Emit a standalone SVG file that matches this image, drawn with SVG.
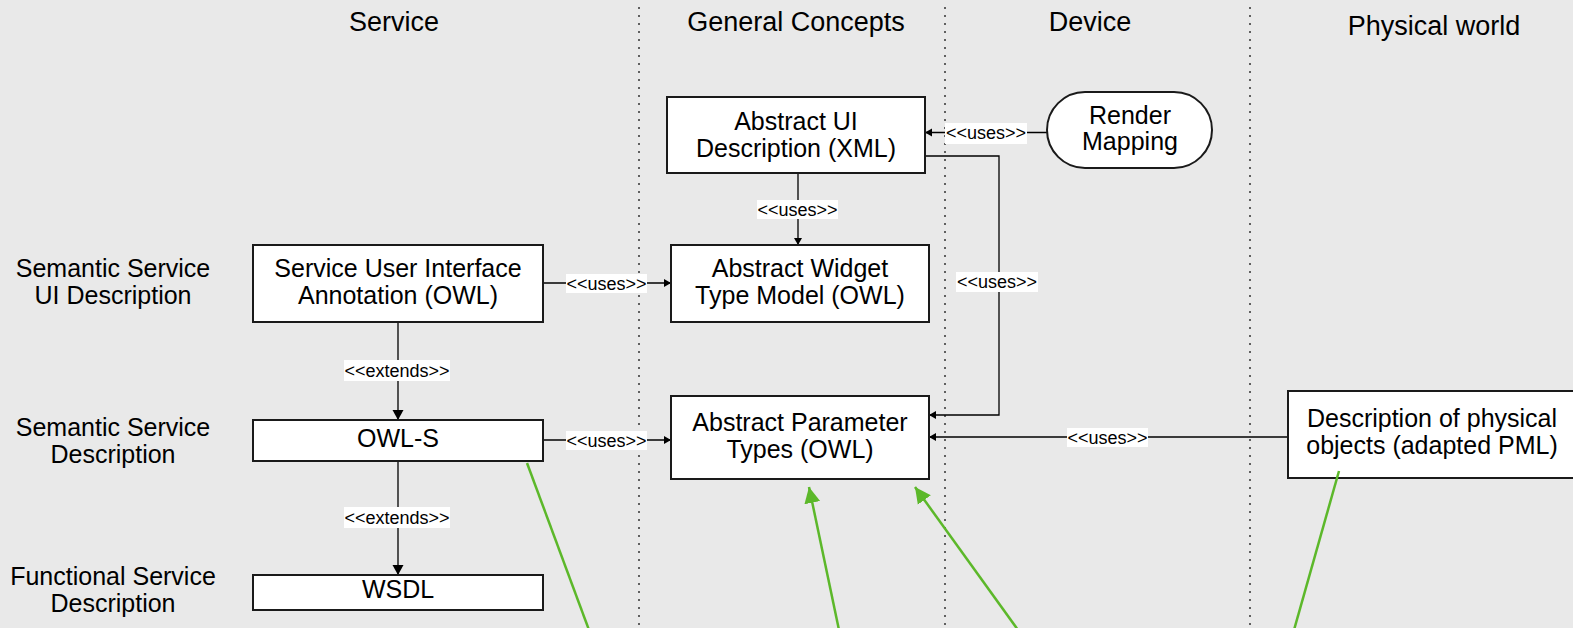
<svg xmlns="http://www.w3.org/2000/svg" width="1573" height="628" viewBox="0 0 1573 628">
<style>
text{font-family:"Liberation Sans",Arial,sans-serif;fill:#000;text-anchor:middle}
.hdr{font-size:27px}
.row{font-size:25px}
.nt{font-size:25px}
.lbl{font-size:18px}
.box{fill:#fff;stroke:#1a1a1a;stroke-width:2}
.sep{stroke:#333;stroke-width:1.5;stroke-dasharray:2 6;fill:none}
.con{stroke:#000;stroke-width:1.3;fill:none}
.lb{fill:#fff}
.green{stroke:#5cb82a;stroke-width:2.5;fill:none}
</style>
<defs>
<marker id="sm" markerUnits="userSpaceOnUse" markerWidth="10" markerHeight="10" refX="8" refY="5" orient="auto"><path d="M1,1 L8,5 L1,9 Z" fill="#000"/></marker>
<marker id="big" markerUnits="userSpaceOnUse" markerWidth="12" markerHeight="12" refX="10" refY="6" orient="auto"><path d="M0,0.5 L10,6 L0,11.5 Z" fill="#000"/></marker>
<marker id="gr" markerUnits="userSpaceOnUse" markerWidth="18" markerHeight="18" refX="16" refY="9" orient="auto"><path d="M0,1 L16,9 L0,17 Z" fill="#5cb82a"/></marker>
</defs>
<rect width="1573" height="628" fill="#e9e9e9"/>
<g id="separators">
<line class="sep" x1="639" y1="7" x2="639" y2="628"/>
<line class="sep" x1="945" y1="7" x2="945" y2="628"/>
<line class="sep" x1="1250" y1="7" x2="1250" y2="628"/>
</g>
<g id="headers">
<text class="hdr" x="394" y="31">Service</text>
<text class="hdr" x="796" y="31">General Concepts</text>
<text class="hdr" x="1090" y="31">Device</text>
<text class="hdr" x="1434" y="35">Physical world</text>
</g>
<g id="row-labels">
<text class="row" x="113" y="277">Semantic Service</text>
<text class="row" x="113" y="304">UI Description</text>
<text class="row" x="113" y="436">Semantic Service</text>
<text class="row" x="113" y="463">Description</text>
<text class="row" x="113" y="585">Functional Service</text>
<text class="row" x="113" y="612">Description</text>
</g>
<g id="connectors">
<line class="con" x1="398" y1="322" x2="398" y2="420" marker-end="url(#big)"/>
<line class="con" x1="398" y1="461" x2="398" y2="575" marker-end="url(#big)"/>
<line class="con" x1="543" y1="283" x2="671" y2="283" marker-end="url(#sm)"/>
<line class="con" x1="543" y1="440" x2="671" y2="440" marker-end="url(#sm)"/>
<line class="con" x1="798" y1="173" x2="798" y2="245" marker-end="url(#sm)"/>
<line class="con" x1="1047" y1="132.5" x2="925" y2="132.5" marker-end="url(#sm)"/>
<path class="con" d="M925,156 H999 V415 H929" stroke="#444" marker-end="url(#sm)"/>
<line class="con" x1="1288" y1="437" x2="929" y2="437" marker-end="url(#sm)"/>
<rect class="lb" x="344" y="360" width="106" height="21"/>
<text class="lbl" x="397" y="377">&lt;&lt;extends&gt;&gt;</text>
<rect class="lb" x="344" y="507" width="106" height="21"/>
<text class="lbl" x="397" y="524">&lt;&lt;extends&gt;&gt;</text>
<rect class="lb" x="566" y="274" width="81" height="19"/>
<text class="lbl" x="606.5" y="290">&lt;&lt;uses&gt;&gt;</text>
<rect class="lb" x="566" y="431" width="81" height="19"/>
<text class="lbl" x="606.5" y="447">&lt;&lt;uses&gt;&gt;</text>
<rect class="lb" x="757" y="200" width="81" height="19"/>
<text class="lbl" x="797.5" y="216">&lt;&lt;uses&gt;&gt;</text>
<rect class="lb" x="945" y="123" width="82" height="21"/>
<text class="lbl" x="986" y="139">&lt;&lt;uses&gt;&gt;</text>
<rect class="lb" x="956" y="272" width="82" height="20"/>
<text class="lbl" x="997" y="288">&lt;&lt;uses&gt;&gt;</text>
<rect class="lb" x="1067" y="428" width="81" height="19"/>
<text class="lbl" x="1107.5" y="444">&lt;&lt;uses&gt;&gt;</text>
</g>
<g id="node-ui-desc">
<rect class="box" x="667" y="97" width="258" height="76"/>
<text class="nt" x="796" y="130">Abstract UI</text>
<text class="nt" x="796" y="157">Description (XML)</text>
</g>
<g id="node-render-mapping">
<rect class="box" x="1047" y="92" width="165" height="76" rx="38" ry="38"/>
<text class="nt" x="1130" y="124">Render</text>
<text class="nt" x="1130" y="150">Mapping</text>
</g>
<g id="node-widget">
<rect class="box" x="671" y="245" width="258" height="77"/>
<text class="nt" x="800" y="277">Abstract Widget</text>
<text class="nt" x="800" y="304">Type Model (OWL)</text>
</g>
<g id="node-suia">
<rect class="box" x="253" y="245" width="290" height="77"/>
<text class="nt" x="398" y="277">Service User Interface</text>
<text class="nt" x="398" y="304">Annotation (OWL)</text>
</g>
<g id="node-owls">
<rect class="box" x="253" y="420" width="290" height="41"/>
<text class="nt" x="398" y="447">OWL-S</text>
</g>
<g id="node-wsdl">
<rect class="box" x="253" y="575" width="290" height="35"/>
<text class="nt" x="398" y="598">WSDL</text>
</g>
<g id="node-param">
<rect class="box" x="671" y="396" width="258" height="83"/>
<text class="nt" x="800" y="431">Abstract Parameter</text>
<text class="nt" x="800" y="458">Types (OWL)</text>
</g>
<g id="node-physical">
<rect class="box" x="1288" y="391" width="300" height="87"/>
<text class="nt" x="1432" y="427">Description of physical</text>
<text class="nt" x="1432" y="454">objects (adapted PML)</text>
</g>
<g id="green-links">
<line class="green" x1="527" y1="463" x2="589" y2="630"/>
<line class="green" x1="839" y1="630" x2="809" y2="487" marker-end="url(#gr)"/>
<line class="green" x1="1018" y1="630" x2="915" y2="487" marker-end="url(#gr)"/>
<line class="green" x1="1339" y1="471" x2="1294" y2="630"/>
</g>
</svg>
